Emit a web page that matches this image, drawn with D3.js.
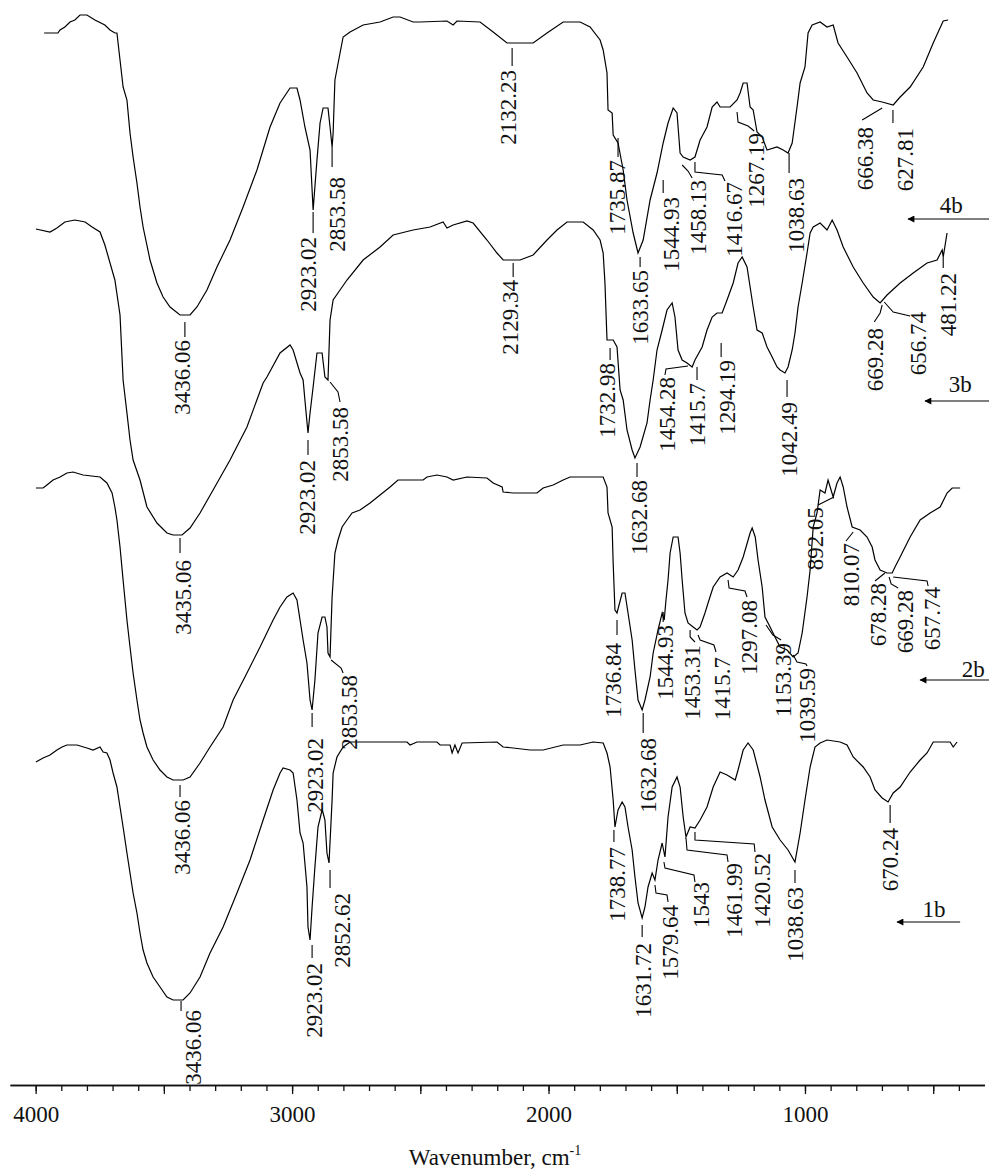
<!DOCTYPE html>
<html>
<head>
<meta charset="utf-8">
<script src="https://cdn.jsdelivr.net/npm/d3@7"></script>
<style>
  body { margin: 0; background: #fff; }
  svg { display: block; }
  text { font-family: "Liberation Serif", "Times New Roman", serif; fill: #111; }
</style>
</head>
<body>
<svg id="chart" width="989" height="1176"></svg>
<script>
// IR spectra, [wavenumber cm-1, transmittance a.u.] - the curves are already stacked
const spec4b = [[3967,104.7],[3913,104.7],[3905,105.0],[3886,105.3],[3866,105.8],[3847,106.0],[3827,106.5],[3800,106.5],[3769,106.0],[3730,105.5],[3710,105.0],[3691,104.7],[3683,104.7],[3671,102.0],[3659,99.3],[3644,98.0],[3632,94.7],[3620,92.3],[3605,89.7],[3593,87.3],[3581,85.3],[3554,82.0],[3527,79.7],[3503,78.3],[3476,77.3],[3437,76.5],[3398,76.5],[3371,77.3],[3332,79.0],[3293,81.3],[3242,84.0],[3191,87.3],[3137,91.0],[3086,95.3],[3047,97.7],[3008,99.2],[2981,99.2],[2969,98.0],[2950,95.3],[2930,93.0],[2918,87.0],[2903,92.0],[2891,95.7],[2879,97.2],[2860,97.2],[2852,95.3],[2844,93.3],[2840,94.7],[2833,100.0],[2813,102.7],[2801,104.3],[2774,104.8],[2723,105.5],[2657,105.8],[2606,106.3],[2579,106.3],[2528,105.8],[2501,105.8],[2396,105.9],[2372,105.5],[2357,105.9],[2267,105.8],[2216,104.8],[2162,103.7],[2060,103.7],[2006,104.7],[1943,105.8],[1877,105.8],[1838,105.3],[1799,104.0],[1787,103.0],[1772,100.7],[1768,97.0],[1752,96.7],[1748,94.5],[1729,93.7],[1709,91.0],[1694,88.0],[1670,84.7],[1651,82.7],[1631,84.0],[1604,88.0],[1577,90.7],[1553,93.7],[1534,95.7],[1514,97.2],[1499,96.7],[1487,92.7],[1475,92.3],[1448,92.0],[1429,92.3],[1409,94.0],[1382,95.3],[1362,97.3],[1343,97.8],[1331,97.3],[1292,97.3],[1265,98.0],[1253,98.7],[1241,99.7],[1226,99.7],[1214,97.3],[1202,97.0],[1187,94.8],[1167,94.3],[1148,93.0],[1109,93.3],[1085,93.0],[1066,92.7],[1050,93.7],[1031,97.3],[1019,99.7],[1000,101.3],[988,104.7],[972,105.5],[941,105.8],[914,105.3],[890,105.5],[871,103.7],[836,102.3],[797,100.7],[758,98.7],[734,98.0],[699,97.8],[656,97.5],[629,98.3],[590,99.3],[539,101.3],[500,103.7],[461,105.9],[442,106.0]];

const spec3b = [[3999,85.1],[3944,84.8],[3917,85.2],[3886,85.8],[3847,86.0],[3807,85.8],[3780,85.3],[3749,84.8],[3730,83.5],[3691,80.0],[3671,76.5],[3659,70.0],[3644,66.7],[3632,64.0],[3620,62.0],[3593,60.0],[3566,57.3],[3527,55.7],[3488,54.7],[3464,54.5],[3429,54.5],[3398,55.2],[3359,56.7],[3308,59.0],[3242,62.0],[3176,65.3],[3113,69.7],[3098,70.3],[3047,72.7],[3008,73.5],[2996,73.0],[2969,70.7],[2957,70.0],[2950,68.0],[2938,64.7],[2930,66.7],[2918,69.3],[2903,72.7],[2883,72.7],[2872,70.3],[2860,70.0],[2852,76.0],[2840,78.0],[2813,79.0],[2786,80.0],[2723,82.0],[2657,83.3],[2606,84.5],[2528,85.0],[2462,85.3],[2411,85.8],[2396,85.2],[2372,85.5],[2318,85.9],[2294,85.7],[2240,84.0],[2201,82.7],[2177,82.0],[2111,82.0],[2060,82.5],[2006,84.0],[1967,85.0],[1928,85.8],[1865,85.8],[1826,85.0],[1799,84.0],[1787,82.7],[1780,79.7],[1772,74.0],[1748,74.0],[1733,73.3],[1721,69.0],[1709,68.0],[1694,65.0],[1674,63.0],[1663,62.2],[1643,63.3],[1616,65.7],[1604,68.0],[1592,70.0],[1577,73.0],[1557,75.0],[1538,77.0],[1518,77.7],[1507,76.3],[1495,73.0],[1479,72.0],[1460,71.7],[1440,71.3],[1429,72.0],[1401,73.3],[1382,75.0],[1362,76.3],[1343,76.7],[1323,76.7],[1304,78.0],[1280,79.7],[1261,81.7],[1245,82.3],[1226,81.3],[1214,79.3],[1202,77.3],[1187,75.0],[1167,74.7],[1148,73.3],[1128,72.3],[1109,71.3],[1097,71.0],[1078,70.7],[1066,71.3],[1050,73.0],[1039,74.7],[1027,77.3],[1011,79.7],[992,82.7],[980,84.7],[968,85.3],[941,85.7],[914,85.0],[894,86.0],[875,85.0],[851,83.3],[812,81.3],[773,79.7],[734,78.3],[707,77.7],[680,78.5],[629,79.7],[578,80.7],[524,81.7],[485,82.0],[465,83.0],[461,82.3],[446,84.7]];

const spec2b = [[3999,59.2],[3971,59.2],[3956,59.5],[3932,60.0],[3905,60.3],[3878,60.7],[3854,60.8],[3815,60.5],[3749,60.3],[3722,59.7],[3702,58.7],[3691,57.3],[3683,56.0],[3671,53.3],[3659,50.0],[3644,46.0],[3632,43.3],[3620,40.7],[3605,38.0],[3593,36.0],[3581,34.7],[3566,33.3],[3542,32.0],[3515,31.0],[3488,30.3],[3464,30.0],[3425,30.0],[3398,30.3],[3359,31.7],[3320,33.3],[3269,35.3],[3230,38.0],[3176,40.7],[3125,43.3],[3074,46.0],[3047,47.3],[3020,48.3],[2996,48.7],[2981,48.0],[2969,46.0],[2957,44.0],[2942,41.7],[2930,38.0],[2922,37.0],[2911,40.0],[2899,44.7],[2883,46.3],[2872,46.3],[2864,45.3],[2860,42.7],[2852,42.3],[2844,48.3],[2833,52.7],[2821,54.0],[2805,55.3],[2786,56.0],[2766,56.7],[2735,57.0],[2696,57.7],[2657,58.5],[2618,59.3],[2587,60.0],[2489,60.0],[2474,60.3],[2435,60.5],[2396,60.3],[2372,60.0],[2318,60.3],[2240,60.2],[2216,59.7],[2181,59.3],[2177,58.8],[2138,58.7],[2045,58.7],[2021,59.2],[1982,59.5],[1943,60.0],[1916,60.3],[1787,60.3],[1772,59.3],[1768,56.7],[1752,55.3],[1748,51.7],[1741,47.0],[1733,46.7],[1713,48.7],[1702,48.7],[1690,46.7],[1674,44.0],[1663,41.0],[1651,38.0],[1635,37.0],[1624,38.0],[1604,40.3],[1592,42.7],[1573,45.0],[1557,46.7],[1549,46.0],[1542,48.0],[1534,50.0],[1526,52.7],[1514,54.3],[1495,54.3],[1487,52.7],[1479,50.0],[1468,46.7],[1456,45.7],[1436,45.3],[1421,45.0],[1409,45.3],[1390,46.7],[1378,47.7],[1358,49.3],[1331,50.3],[1304,50.7],[1280,50.3],[1261,51.0],[1241,52.3],[1214,54.7],[1206,55.2],[1194,54.3],[1183,52.0],[1167,49.3],[1156,46.3],[1136,45.3],[1117,44.3],[1097,43.3],[1070,43.0],[1046,42.3],[1027,42.7],[1011,44.7],[992,48.3],[980,51.0],[968,55.3],[953,56.7],[941,59.0],[922,58.7],[910,60.0],[890,58.3],[875,59.7],[863,60.3],[851,59.3],[836,57.3],[816,55.3],[785,55.0],[758,54.3],[738,53.3],[727,52.0],[707,51.0],[680,50.7],[660,50.7],[649,51.3],[629,52.3],[590,54.3],[551,56.0],[512,56.7],[473,57.3],[446,58.7],[426,59.2],[395,59.2]];

const spec1b = [[3999,31.8],[3971,32.2],[3944,32.5],[3917,33.0],[3897,33.3],[3878,33.5],[3839,33.5],[3800,33.2],[3776,33.0],[3749,33.3],[3737,32.8],[3722,32.7],[3710,32.0],[3698,30.7],[3683,29.3],[3671,27.3],[3659,25.3],[3644,22.7],[3632,20.7],[3620,18.7],[3605,16.7],[3593,14.7],[3581,13.0],[3566,11.7],[3542,10.3],[3515,9.3],[3488,8.3],[3464,8.0],[3425,8.0],[3398,8.7],[3359,10.3],[3320,12.7],[3269,15.3],[3215,18.7],[3164,22.0],[3113,26.0],[3074,29.0],[3047,30.7],[3035,31.2],[3008,31.0],[2996,30.7],[2981,28.0],[2969,24.7],[2957,23.7],[2942,19.3],[2938,15.3],[2930,14.0],[2922,17.3],[2911,21.3],[2899,25.3],[2883,27.0],[2879,26.7],[2872,26.0],[2864,22.7],[2856,21.7],[2844,28.0],[2840,30.7],[2825,32.3],[2801,33.3],[2774,33.8],[2552,33.8],[2540,33.5],[2513,33.8],[2435,33.8],[2423,33.5],[2384,33.5],[2376,32.7],[2365,33.5],[2353,32.7],[2337,33.7],[2201,33.8],[2177,33.3],[2138,33.2],[2072,33.0],[2021,33.0],[1943,33.5],[1877,33.5],[1826,33.8],[1787,33.7],[1772,32.7],[1760,31.3],[1748,28.0],[1741,25.3],[1729,27.0],[1713,27.8],[1702,27.3],[1690,25.3],[1674,23.0],[1663,20.3],[1651,17.7],[1635,16.2],[1624,17.3],[1612,19.3],[1596,20.7],[1585,20.0],[1573,22.0],[1557,23.7],[1546,22.3],[1534,26.3],[1518,29.3],[1499,30.3],[1487,29.3],[1475,26.3],[1464,24.3],[1448,25.3],[1429,25.2],[1409,26.0],[1382,27.3],[1358,29.3],[1331,30.8],[1304,30.5],[1272,30.0],[1261,31.0],[1241,33.0],[1222,33.7],[1202,33.0],[1175,30.3],[1156,28.0],[1128,25.3],[1097,24.0],[1066,23.0],[1039,21.8],[1019,24.7],[1000,28.0],[980,31.3],[961,33.3],[941,33.7],[914,34.0],[863,33.8],[836,33.5],[812,32.3],[773,31.3],[746,30.3],[727,29.0],[699,28.2],[676,27.8],[656,28.7],[629,29.3],[590,30.8],[551,32.0],[524,32.7],[500,33.8],[434,33.8],[422,33.3],[407,33.8]];

// peak labels: text, wavenumber of the text column, T of text top, leader points
const peakLabels = [
  ["3436.06", 3429, 74.0, [[3418,75.8],[3418,74.3]]],
  ["2923.02", 2938, 84.3, [[2918,86.8],[2918,84.7]]],
  ["2853.58", 2825, 90.3, [[2844,93.3],[2844,91.3]]],
  ["2132.23", 2158, 101.0, [[2142,103.2],[2142,101.4]]],
  ["1735.87", 1733, 92.0, [[1729,94.2],[1729,92.3]]],
  ["1633.65", 1643, 81.0, [[1643,82.3],[1643,81.3]]],
  ["1544.93", 1522, 88.3, [[1553,90.0],[1553,88.7]]],
  ["1458.13", 1417, 90.0, [[1479,91.5],[1456,90.9],[1440,90.2]]],
  ["1416.67", 1277, 89.8, [[1429,91.8],[1429,90.8],[1323,90.5],[1312,89.9]]],
  ["1267.19", 1191, 94.7, [[1265,96.8],[1261,95.8],[1222,95.4],[1198,94.9]]],
  ["1038.63", 1035, 90.2, [[1062,92.7],[1062,90.7]]],
  ["666.38", 766, 95.3, [[699,97.2],[777,96.0]]],
  ["627.81", 610, 95.2, [[657,97.0],[657,95.7]]],

  ["3435.06", 3425, 52.0, [[3437,54.2],[3437,52.7]]],
  ["2923.02", 2942, 62.0, [[2938,64.0],[2938,62.5]]],
  ["2853.58", 2813, 67.3, [[2852,69.8],[2821,68.8],[2813,67.8]]],
  ["2129.34", 2150, 80.0, [[2138,81.7],[2138,80.3]]],
  ["1732.98", 1772, 71.7, [[1760,73.2],[1760,72.0]]],
  ["1632.68", 1647, 60.0, [[1655,61.7],[1655,60.3]]],
  ["1454.28", 1538, 70.3, [[1456,71.4],[1542,71.1],[1546,70.5]]],
  ["1415.7", 1421, 69.7, [[1421,71.3],[1421,70.0]]],
  ["1294.19", 1304, 72.0, [[1327,73.7],[1327,72.3]]],
  ["1042.49", 1062, 67.8, [[1070,70.0],[1070,68.3]]],
  ["669.28", 727, 75.2, [[699,77.5],[707,76.7],[730,75.8]]],
  ["656.74", 559, 76.8, [[691,77.8],[656,76.8],[590,76.4]]],
  ["481.22", 442, 80.7, [[461,82.3],[461,81.2]]],

  ["3436.06", 3429, 28.0, [[3437,29.5],[3437,28.3]]],
  ["2923.02", 2911, 34.2, [[2922,36.7],[2922,35.3]]],
  ["2853.58", 2778, 40.5, [[2848,42.0],[2809,41.2],[2801,40.7]]],
  ["1736.84", 1748, 43.7, [[1733,46.0],[1733,44.5]]],
  ["1632.68", 1612, 34.2, [[1631,36.7],[1631,34.7]]],
  ["1544.93", 1546, 45.5, [[1553,46.8],[1553,45.8]]],
  ["1453.31", 1440, 43.5, [[1448,45.0],[1448,44.3],[1429,43.8]]],
  ["1415.7", 1323, 42.3, [[1417,44.5],[1409,44.0],[1355,43.5],[1347,42.8]]],
  ["1297.08", 1218, 48.0, [[1300,50.0],[1296,49.2],[1234,48.9],[1226,48.3]]],
  ["1153.39", 1086, 43.7, [[1152,45.5],[1125,44.5],[1093,44.0]]],
  ["1039.59", 992, 41.2, [[1046,42.5],[1031,41.8],[996,41.6],[992,41.4]]],
  ["892.05", 961, 57.3, [[887,58.3],[949,57.5]]],
  ["810.07", 820, 53.7, [[812,54.8],[840,53.9]]],
  ["678.28", 715, 49.7, [[688,50.7],[727,49.9]]],
  ["669.28", 610, 49.0, [[672,50.3],[664,49.6],[637,49.2]]],
  ["657.74", 504, 49.3, [[656,50.3],[524,49.9],[520,49.4]]],

  ["3436.06", 3386, 7.0, [[3433,7.9],[3433,6.9]]],
  ["2923.02", 2915, 11.7, [[2922,13.5],[2922,12.2]]],
  ["2852.62", 2805, 18.7, [[2852,21.0],[2852,19.2]]],
  ["1738.77", 1733, 23.3, [[1745,25.0],[1745,23.8]]],
  ["1631.72", 1631, 13.7, [[1635,15.5],[1635,14.3]]],
  ["1579.64", 1526, 17.5, [[1585,19.5],[1581,18.7],[1538,18.5],[1534,17.8]]],
  ["1543", 1405, 19.8, [[1550,21.8],[1546,21.2],[1433,20.5],[1429,19.8]]],
  ["1461.99", 1277, 21.7, [[1464,24.2],[1460,23.0],[1304,22.5],[1300,21.8]]],
  ["1420.52", 1167, 22.7, [[1429,24.8],[1429,24.0],[1198,23.6],[1195,22.8]]],
  ["1038.63", 1039, 19.3, [[1039,21.0],[1039,19.7]]],
  ["670.24", 668, 25.2, [[668,27.5],[668,25.7]]]
];

// sample tags with arrows on the right
const tagNames  = ["4b", "3b", "2b", "1b"];
const tagTextWn = [430, 395, 344, 497];
const tagTextT  = [86.7, 68.8, 40.3, 16.3];
const arrowTail = [282, 282, 282, 395];
const arrowHead = [598, 532, 551, 641];
const arrowT    = [86.1, 67.9, 40.0, 15.8];

const allTicks   = d3.range(4000, 399, -100);
const majorTicks = d3.range(4000, 499, -500);

const svg = d3.select('#chart');

const x = d3.scaleLinear().domain([4100, 300]).range([10, 984.5]);
const y = d3.scaleLinear().domain([0, 108]).range([1080, 0]);
const axisY = 1085;

// axis
const minorAxis = d3.axisBottom(x).tickValues(allTicks).tickSize(6).tickSizeOuter(0).tickFormat('');
const majorAxis = d3.axisBottom(x).tickValues(majorTicks).tickSize(9).tickSizeOuter(0).tickPadding(12)
  .tickFormat(d => d % 1000 === 0 ? d : '');

svg.append('g').attr('transform', `translate(0,${axisY})`).call(minorAxis);
const gMajor = svg.append('g').attr('transform', `translate(0,${axisY})`).call(majorAxis);
svg.selectAll('.domain, .tick line').attr('stroke', '#111').attr('stroke-width', 1.3);
gMajor.selectAll('text').style('font-size', '23px').attr('fill', '#111')
  .style('font-family', '"Liberation Serif", serif');

const title = svg.append('text')
  .attr('x', 495).attr('y', 1165)
  .attr('text-anchor', 'middle')
  .style('font-size', '23px');
title.append('tspan').text('Wavenumber, cm');
title.append('tspan').attr('dy', -10).style('font-size', '14px').text('-1');

// spectra
const line = d3.line().x(d => x(d[0])).y(d => y(d[1]));
[spec4b, spec3b, spec2b, spec1b].forEach(s => {
  svg.append('path')
    .attr('d', line(s))
    .attr('fill', 'none')
    .attr('stroke', '#000')
    .attr('stroke-width', 1.2)
    .attr('stroke-linejoin', 'miter');
});

// leaders + peak labels
peakLabels.forEach(([t, wt, tt, lead]) => {
  svg.append('path')
    .attr('d', line(lead))
    .attr('fill', 'none')
    .attr('stroke', '#000')
    .attr('stroke-width', 1.1);
  svg.append('text')
    .attr('transform', `translate(${x(wt)},${y(tt)}) rotate(-90)`)
    .attr('text-anchor', 'end')
    .attr('dy', '0.35em')
    .style('font-size', '23px')
    .text(t);
});

// arrows and tags
svg.append('defs').append('marker')
  .attr('id', 'head').attr('viewBox', '0 0 10 10')
  .attr('refX', 9).attr('refY', 5)
  .attr('markerWidth', 9).attr('markerHeight', 7)
  .attr('markerUnits', 'userSpaceOnUse')
  .attr('orient', 'auto')
  .append('path').attr('d', 'M0,0L10,5L0,10z').attr('fill', '#000');

tagNames.forEach((name, i) => {
  svg.append('line')
    .attr('x1', x(arrowTail[i])).attr('x2', x(arrowHead[i]))
    .attr('y1', y(arrowT[i])).attr('y2', y(arrowT[i]))
    .attr('stroke', '#000').attr('stroke-width', 1.2)
    .attr('marker-end', 'url(#head)');
  svg.append('text')
    .attr('x', x(tagTextWn[i])).attr('y', y(tagTextT[i]))
    .attr('text-anchor', 'middle')
    .style('font-size', '23px')
    .text(name);
});
</script>
</body>
</html>
